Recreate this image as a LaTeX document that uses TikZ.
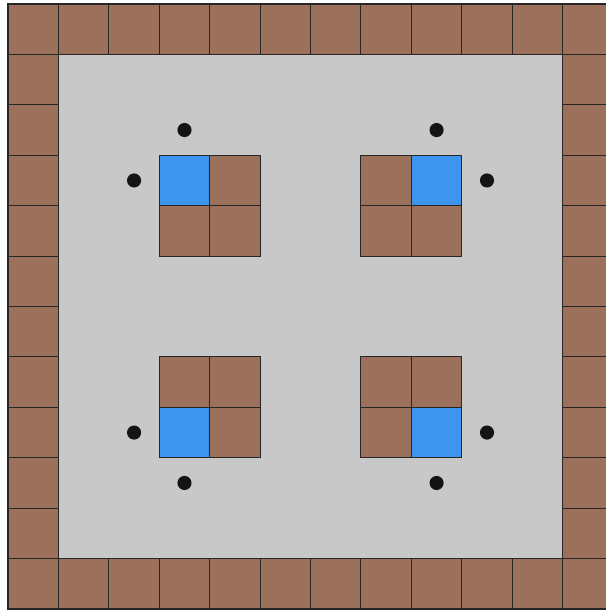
\documentclass[tikz,border=0pt]{standalone}
\definecolor{brownc}{RGB}{155,113,91}
\definecolor{bluec}{RGB}{62,149,238}
\definecolor{grayc}{RGB}{200,200,200}
\definecolor{dotc}{RGB}{20,20,20}
\begin{document}
\begin{tikzpicture}[yscale=-1,x=1cm,y=1cm,
  wallcell/.style={fill=brownc,draw=black!85,line width=0.6pt},
  blockcell/.style={fill=brownc,draw=black!85,line width=0.6pt},
  goalcell/.style={fill=bluec,draw=black!85,line width=0.6pt},
  dotmark/.style={circle,fill=dotc,inner sep=0pt,minimum size=0.28cm}]
\useasboundingbox[fill=white] (-0.159,-0.079) rectangle (11.845,12.079);
% floor
\fill[grayc] (1,1) rectangle (11,11);
% walls
\foreach \i in {0,...,11}{
  \draw[wallcell] (\i,0) rectangle ++(1,1);
  \draw[wallcell] (\i,11) rectangle ++(1,1);
}
\foreach \j in {1,...,10}{
  \draw[wallcell] (0,\j) rectangle ++(1,1);
  \draw[wallcell] (11,\j) rectangle ++(1,1);
}
% blocks
\foreach \x/\y in {4/3,3/4,4/4, 7/3,7/4,8/4, 3/7,4/7,4/8, 7/7,8/7,7/8}{
  \draw[blockcell] (\x,\y) rectangle ++(1,1);
}
\foreach \x/\y in {3/3,8/3,3/8,8/8}{
  \draw[goalcell] (\x,\y) rectangle ++(1,1);
}
% dots
\node[dotmark] (d1) at (3.5,2.5) {};
\node[dotmark] (d2) at (2.5,3.5) {};
\node[dotmark] (d3) at (8.5,2.5) {};
\node[dotmark] (d4) at (9.5,3.5) {};
\node[dotmark] (d5) at (2.5,8.5) {};
\node[dotmark] (d6) at (3.5,9.5) {};
\node[dotmark] (d7) at (9.5,8.5) {};
\node[dotmark] (d8) at (8.5,9.5) {};
\end{tikzpicture}
\end{document}
